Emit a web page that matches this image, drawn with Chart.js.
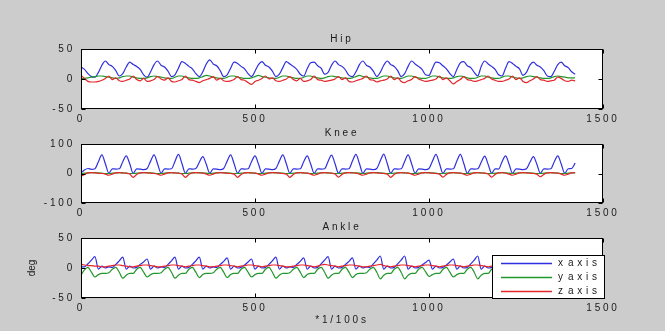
<!DOCTYPE html>
<html>
<head>
<meta charset="utf-8">
<script src="https://cdn.jsdelivr.net/npm/chart.js@4.4.1/dist/chart.umd.min.js"></script>
<style>
  html, body { margin: 0; padding: 0; background: #cccccc; }
  #wrap { position: relative; width: 665px; height: 331px; }
  #wrap canvas { position: absolute; left: 0; top: 0; }
</style>
</head>
<body>
<div id="wrap">
  <canvas id="hip" width="665" height="331"></canvas>
  <canvas id="knee" width="665" height="331"></canvas>
  <canvas id="ankle" width="665" height="331"></canvas>
</div>
<script>
// sample index (1/100 s), every 10th sample
const samples = [
  0,10,20,30,40,50,60,70,80,90,100,110,120,130,140,150,160,170,180,190,
  200,210,220,230,240,250,260,270,280,290,300,310,320,330,340,350,360,370,380,390,
  400,410,420,430,440,450,460,470,480,490,500,510,520,530,540,550,560,570,580,590,
  600,610,620,630,640,650,660,670,680,690,700,710,720,730,740,750,760,770,780,790,
  800,810,820,830,840,850,860,870,880,890,900,910,920,930,940,950,960,970,980,990,
  1000,1010,1020,1030,1040,1050,1060,1070,1080,1090,1100,1110,1120,1130,1140,1150,1160,1170,1180,1190,
  1200,1210,1220,1230,1240,1250,1260,1270,1280,1290,1300,1310,1320,1330,1340,1350,1360,1370,1380,1390,
  1400,1410,1420
];

const seriesNames = ['x axis', 'y axis', 'z axis'];
const xTicks = [0, 500, 1000, 1500];
const hipTicks = [-50, 0, 50];
const kneeTicks = [-100, 0, 100];
const ankleTicks = [-50, 0, 50];

// Hip (deg)
const hipX = [
  20,16,9,4,3,11,23,30,24,21, 14,5,9,20,28,24,21,16,7,3,
  12,24,30,23,20,13,4,7,18,29, 26,21,17,9,4,12,25,32,25,22,
  14,4,7,18,28,26,21,17,9,4, 13,24,29,23,20,13,4,8,19,29,
  25,21,16,8,5,17,27,28,22,18, 8,11,23,30,24,21,15,6,4,12,
  24,30,23,20,13,4,11,23,30,24, 21,14,4,9,21,30,25,21,16,7,
  6,18,28,27,22,17,9,4,16,27, 29,22,19,11,5,21,30,25,21,16,
  7,5,18,29,26,21,17,6,11,23, 28,23,20,14,5,4,13,24,28,22,
  19,12,8
];
const hipY = [
  0,1,2,3,4,5,5,4,3,2, 1,2,4,5,5,3,2,1,1,2,
  4,5,4,3,2,1,1,3,5,5, 3,2,1,1,2,4,6,5,3,2,
  1,1,3,5,5,3,2,1,1,2, 4,6,4,3,2,1,1,3,5,5,
  3,2,1,1,3,5,5,3,2,1, 2,4,5,4,3,2,1,1,2,4,
  6,4,3,2,1,1,3,5,5,3, 2,1,1,3,5,5,3,2,1,1,
  3,5,5,3,2,1,1,2,4,5, 4,2,1,1,3,5,5,3,2,1,
  1,3,5,5,3,2,1,2,4,5, 4,3,2,1,1,2,4,5,4,3,
  2,2,2
];
const hipZ = [
  6,1,-4,-5,-5,-4,-2,1,5,-1, 2,-3,-4,-2,0,5,-1,-3,1,-4,
  -3,-1,4,0,-2,2,-4,-5,-3,-1, 5,-1,-2,-4,-6,-3,-1,1,4,-2,
  1,-3,-4,-3,-1,4,-1,-2,-6,-9, -4,-2,1,5,0,2,-3,-4,-2,0,
  4,-1,-3,1,-4,-3,-1,5,-1,-2, -4,-3,-2,0,4,-1,2,-4,-5,-3,
  -1,1,5,-1,-2,-5,-3,-2,0,5, -1,2,-4,-6,-3,-1,4,0,-2,-4,
  -3,-2,0,5,-1,2,-3,-8,-4,-1, 4,-1,-2,-4,-3,-1,1,5,0,-2,
  -4,-4,-2,0,5,-1,2,-4,-6,-3, 0,4,-1,-2,-4,-3,-2,3,1,-3,
  -4,-2,-3
];

// Knee (deg)
const kneeX = [
  2,12,17,14,16,40,63,33,1,16, 15,16,40,60,33,1,16,15,13,17,
  42,63,33,1,16,15,16,41,65,34, 1,16,15,17,38,57,31,1,16,15,
  13,17,42,63,33,1,16,15,16,40, 60,32,1,16,15,13,17,42,63,33,
  1,16,15,16,40,60,32,1,16,15, 16,41,62,33,1,16,15,16,42,65,
  34,1,16,15,13,17,43,66,34,1, 16,15,16,41,63,33,1,16,15,13,
  17,42,65,34,1,16,15,16,42,65, 34,1,16,15,16,38,59,31,1,16,
  15,40,60,32,1,16,15,13,16,38, 57,31,1,16,15,16,40,60,32,1,
  16,17,35
];
const kneeY = [
  0,1,2,3,3,2,1,0,0,1, 2,3,2,1,0,0,1,2,3,3,
  2,1,0,0,1,2,3,2,1,0, 0,1,2,3,3,2,1,0,1,2,
  3,3,2,1,0,0,1,2,3,2, 1,0,0,1,2,3,3,2,1,0,
  0,1,2,3,2,1,0,0,1,2, 3,2,1,0,0,1,2,3,3,2,
  1,0,1,2,3,3,2,1,0,0, 1,2,3,2,1,0,0,1,2,3,
  3,2,1,0,0,1,2,3,2,1, 0,0,1,2,3,2,1,0,0,1,
  2,3,2,1,0,1,2,3,3,2, 1,0,0,1,2,3,2,1,0,0,
  1,2,2
];
const kneeZ = [
  -10,-3,2,3,2,1,0,-2,-6,-2, 2,3,2,1,-2,-13,-3,2,3,2,
  1,0,-2,-6,-2,2,3,2,1,-2, -13,-3,2,3,2,1,-2,-6,-2,2,
  3,2,1,0,-2,-13,-3,2,3,2, 1,-2,-6,-2,2,3,2,1,0,-2,
  -13,-3,2,3,2,1,-2,-6,-2,2, 3,2,1,-2,-12,-3,2,3,2,1,
  -2,-6,-2,2,3,2,1,0,-2,-13, -3,2,3,2,1,-2,-6,-2,2,3,
  2,1,0,-2,-12,-3,2,3,2,1, -2,-6,-2,2,3,2,1,-2,-12,-3,
  2,3,1,-2,-6,-2,2,3,2,1, 0,-2,-11,-3,2,3,2,1,-2,-6,
  -2,2,3
];

// Ankle (deg)
const ankleX = [
  2,2,7,13,19,-2,3,0,2,1, 6,12,18,-2,3,0,1,6,10,15,
  -2,3,0,2,1,6,12,18,-2,3, 0,1,6,12,18,-2,3,0,2,1,
  6,11,17,-2,3,0,1,5,10,15, -2,3,0,1,6,12,18,-2,3,0,
  2,1,6,11,17,-2,3,0,1,7, 13,19,-2,3,0,1,6,11,17,-2,
  3,0,2,1,7,13,20,-2,3,0, 1,7,13,20,-2,3,0,1,5,9,
  13,-2,3,0,1,5,10,15,-2,3, 0,1,7,13,20,-2,3,0,1,6,
  11,17,-2,3,0,1,6,11,17,-2, 3,0,1,6,11,17,-2,3,0,2,
  1,5,9
];
const ankleY = [
  -12,-3,1,-7,-15,-11,-9,-9,-8,-2, 1,-7,-17,-12,-9,-9,-2,1,-7,-15,
  -11,-9,-9,-8,-2,1,-7,-17,-12,-9, -9,-2,1,-7,-16,-11,-9,-9,-8,-2,
  1,-7,-16,-11,-9,-9,-2,1,-7,-15, -11,-9,-9,-2,1,-7,-17,-12,-9,-9,
  -8,-2,1,-7,-16,-11,-9,-9,-2,1, -7,-17,-12,-9,-9,-2,1,-7,-16,-11,
  -9,-9,-8,-2,1,-7,-18,-12,-9,-9, -2,1,-7,-18,-12,-9,-9,-2,1,-6,
  -14,-11,-9,-9,-2,1,-7,-15,-11,-9, -9,-2,1,-7,-18,-12,-9,-9,-2,1,
  -7,-16,-11,-9,-9,-2,1,-7,-16,-11, -9,-9,-2,1,-7,-16,-11,-9,-9,-2,
  1,-5,-9
];
const ankleZ = [
  6,5,4,4,3,3,2,2,3,4, 5,5,4,3,2,2,3,4,5,5,
  4,3,2,2,3,4,5,5,4,3, 2,3,4,5,5,4,3,2,2,3,
  4,5,5,4,3,2,3,4,5,5, 4,3,2,3,4,5,5,4,3,2,
  2,3,4,5,5,4,3,2,3,5, 6,5,4,3,2,3,4,5,5,4,
  3,2,2,3,4,5,6,4,3,2, 3,4,5,5,4,3,2,3,4,5,
  5,4,3,2,3,4,5,5,4,3, 2,3,4,5,5,4,3,2,3,4,
  5,5,4,3,2,3,4,5,5,4, 3,2,3,4,5,5,4,3,2,3,
  4,4,4
];

const seriesColors = ['#2f2fe0', '#23962b', '#e5262a'];
const TXT = '#1a1a1a';
const FAMILY = '"Liberation Sans", Arial, Helvetica, sans-serif';
const SPACING = '2.8px';

Chart.defaults.font.family = FAMILY;
Chart.defaults.font.size = 10;
Chart.defaults.color = TXT;

// white axes box + matlab style frame with inward ticks
const axesBox = {
  id: 'axesBox',
  beforeLayout(chart) { chart.ctx.letterSpacing = SPACING; },
  beforeDraw(chart) {
    const ctx = chart.ctx, a = chart.chartArea;
    ctx.letterSpacing = SPACING;
    ctx.save();
    ctx.fillStyle = '#ffffff';
    ctx.fillRect(a.left, a.top, a.right - a.left, a.bottom - a.top);
    ctx.restore();
  },
  afterDatasetsDraw(chart) {
    const ctx = chart.ctx, a = chart.chartArea;
    const xs = chart.scales.x, ys = chart.scales.y;
    const L = Math.round(a.left) + 0.5, R = Math.round(a.right) - 0.5;
    const T = Math.round(a.top) + 0.5, B = Math.round(a.bottom) - 0.5;
    ctx.save();
    ctx.strokeStyle = '#000';
    ctx.lineWidth = 1;
    ctx.strokeRect(L, T, R - L, B - T);
    ctx.beginPath();
    xs.ticks.forEach(t => {
      const px = Math.round(xs.getPixelForValue(t.value)) + 0.5;
      ctx.moveTo(px, T); ctx.lineTo(px, T + 4);
      ctx.moveTo(px, B); ctx.lineTo(px, B - 4);
    });
    ys.ticks.forEach(t => {
      const py = Math.round(ys.getPixelForValue(t.value)) + 0.5;
      ctx.moveTo(L, py); ctx.lineTo(L + 4, py);
      ctx.moveTo(R, py); ctx.lineTo(R - 4, py);
    });
    ctx.stroke();
    ctx.restore();
  }
};

// y label drawn without the letter spacing used elsewhere
const yLabel = {
  id: 'yLabel',
  afterDraw(chart, args, opts) {
    const ctx = chart.ctx, a = chart.chartArea;
    ctx.save();
    ctx.letterSpacing = '0px';
    ctx.font = '10px ' + FAMILY;
    ctx.fillStyle = TXT;
    ctx.textAlign = 'center';
    ctx.textBaseline = 'middle';
    ctx.translate(32, (a.top + a.bottom) / 2);
    ctx.rotate(-Math.PI / 2);
    ctx.fillText(opts.text, 0, 0);
    ctx.restore();
  }
};

// boxed legend drawn over the data, lower right of the ankle axes
const boxLegend = {
  id: 'boxLegend',
  afterDraw(chart) {
    const ctx = chart.ctx, a = chart.chartArea;
    const left = Math.round(a.right) - 111, top = Math.round(a.bottom) - 43;
    const w = 113, h = 44;
    ctx.save();
    ctx.fillStyle = '#ffffff';
    ctx.fillRect(left, top, w, h);
    ctx.strokeStyle = '#000';
    ctx.lineWidth = 1;
    ctx.strokeRect(left + 0.5, top + 0.5, w - 1, h - 1);
    ctx.font = '10px ' + FAMILY;
    ctx.textBaseline = 'middle';
    seriesNames.forEach((name, i) => {
      const y = Math.round(top + 8 + i * 13.8) + 0.5;
      ctx.strokeStyle = seriesColors[i];
      ctx.lineWidth = 1.5;
      ctx.beginPath();
      ctx.moveTo(left + 9, y);
      ctx.lineTo(left + 60, y);
      ctx.stroke();
      ctx.fillStyle = TXT;
      const parts = name.split(' ');
      ctx.letterSpacing = '0px';
      ctx.fillText(parts[0], left + 66, y);
      ctx.letterSpacing = '3.7px';
      ctx.fillText(parts[1], left + 76, y);
    });
    ctx.restore();
  }
};

function makeChart(id, title, ys, yTicks, yRange, pad, opts) {
  const datasets = ys.map((d, i) => ({
    label: seriesNames[i],
    data: d,
    borderColor: seriesColors[i],
    borderWidth: 1.2,
    pointRadius: 0,
    cubicInterpolationMode: 'monotone',
    order: 2 - i
  }));
  const plugins = [axesBox];
  if (opts.yTitle) plugins.push(yLabel);
  if (opts.legend) plugins.push(boxLegend);
  return new Chart(document.getElementById(id), {
    type: 'line',
    data: { labels: samples, datasets: datasets },
    options: {
      responsive: false,
      animation: false,
      events: [],
      layout: { padding: { top: pad.top, bottom: pad.bottom, left: 0, right: 62 } },
      plugins: {
        legend: { display: false },
        tooltip: { enabled: false },
        yLabel: { text: opts.yTitle || '' },
        title: {
          display: true, text: title, fullSize: false, color: TXT,
          font: { size: 10, weight: 'normal' },
          padding: { top: 0, bottom: pad.title }
        }
      },
      scales: {
        x: {
          type: 'linear', min: 0, max: 1500,
          afterBuildTicks: s => { s.ticks = xTicks.map(v => ({ value: v })); },
          afterFit: s => { s.height = opts.xTitle ? 33 : 20; },
          grid: { display: false, drawTicks: false },
          border: { display: false },
          ticks: { padding: 4, maxRotation: 0, autoSkip: false, color: TXT, callback: v => String(v) },
          title: opts.xTitle ? { display: true, text: opts.xTitle, color: TXT, padding: { top: 0, bottom: 5 } } : { display: false }
        },
        y: {
          min: yRange[0], max: yRange[1],
          afterBuildTicks: s => { s.ticks = yTicks.map(v => ({ value: v })); },
          afterFit: s => { s.width = 81; },
          grid: { display: false, drawTicks: false },
          border: { display: false },
          ticks: { padding: 6, autoSkip: false, color: TXT, callback: v => String(v) }
        }
      }
    },
    plugins: plugins
  });
}

makeChart('hip', 'Hip', [hipX, hipY, hipZ], hipTicks, [-50, 50], { top: 33, bottom: 202, title: 4 }, {});
makeChart('knee', 'Knee', [kneeX, kneeY, kneeZ], kneeTicks, [-100, 100], { top: 127, bottom: 108, title: 5 }, {});
makeChart('ankle', 'Ankle', [ankleX, ankleY, ankleZ], ankleTicks, [-50, 50], { top: 221, bottom: 0, title: 5 },
  { xTitle: '*1/100s', yTitle: 'deg', legend: true });
</script>
</body>
</html>
